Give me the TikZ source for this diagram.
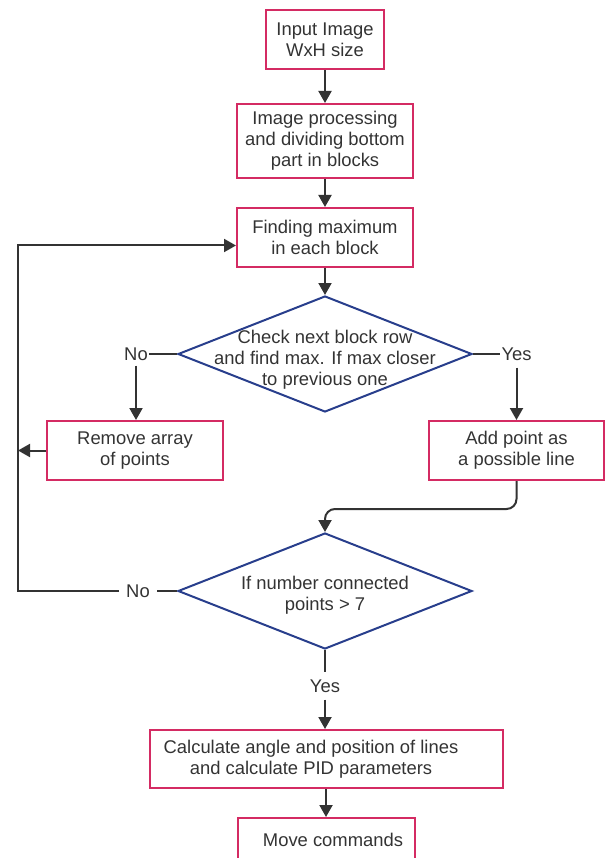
\documentclass[tikz,border=0pt]{standalone}
\usepackage{fontspec}
\setmainfont{Liberation Sans}
\usetikzlibrary{shapes.geometric,arrows.meta,calc}
\definecolor{boxred}{RGB}{212,43,99}
\definecolor{decblue}{RGB}{40,62,140}
\definecolor{linegray}{RGB}{51,51,51}

\begin{document}
\begin{tikzpicture}
            [x=1pt,y=-1pt,
                box/.style={draw=boxred,line width=2pt,align=center,text=linegray,font=\fontsize{18.4}{21}\selectfont,inner sep=0pt},
                decision/.style={diamond,draw=decblue,line width=2pt,minimum width=294pt,minimum height=116pt,inner sep=0pt},
                dectext/.style={align=center,text=linegray,font=\fontsize{18.4}{21}\selectfont},
                answer/.style={text=linegray,font=\fontsize{18.4}{21}\selectfont,inner sep=1pt},
                line/.style={linegray,line width=2pt},
                arrow/.style={line,-{Triangle[length=12pt,width=13pt]}}]
            \useasboundingbox (0,0) rectangle (606,858);

            %boxes down the middle
            \node[box,minimum width=118pt,minimum height=59pt] (input) at (325,40) {Input Image\\WxH size};
            \node[box,minimum width=176pt,minimum height=74pt] (process) at (325,141) {Image processing\\and dividing bottom\\part in blocks};
            \node[box,minimum width=176pt,minimum height=59pt] (find) at (325,237.5) {Finding maximum\\in each block};

            %first decision and its two answers
            \node[decision] (check) at (325,354) {};
            \node[dectext] (checktext) at (325,360) {Check next block row\\and find max. If max closer\\to previous one};
            \node[answer] (no1) at (136,354) {No};
            \node[answer] (yes1) at (516.5,354) {Yes};
            \node[box,minimum width=176pt,minimum height=59pt] (remove) at (135,450.5) {Remove array\\of points};
            \node[box,minimum width=175pt,minimum height=59pt] (add) at (516.5,450.5) {Add point as\\a possible line};

            %second decision
            \node[decision] (count) at (325,591) {};
            \node[dectext] (counttext) at (325,595.5) {If number connected\\points > 7};
            \node[answer,inner sep=7pt] (no2) at (138,591) {No};
            \node[answer,inner sep=7pt] (yes2) at (325,686) {Yes};

            %last boxes
            \node[box,minimum width=353pt,minimum height=58pt] (calc) at (326,759) {Calculate angle and position of lines\hspace*{30pt}\\and calculate PID parameters\hspace*{30pt}};
            \node[box,minimum width=177pt,minimum height=59pt,text depth=16pt] (move) at (326,847.5) {\hspace*{14pt}Move commands};

            %connectors
            \draw[arrow] (input) -- (process);
            \draw[arrow] (process) -- (find);
            \draw[arrow] (find) -- (check);
            \draw[line] (check.west) -- (no1.east);
            \draw[arrow] ([yshift=-4pt]no1.south) -- (no1.south |- remove.north);
            \draw[line] (check.east) -- (yes1.west);
            \draw[arrow] ([yshift=-6pt]yes1.south) -- (yes1.south |- add.north);
            \draw[arrow,rounded corners=10pt] (add.south) -- ++(0,28) -| (count.north);
            \draw[line] (count.west) -- (no2.east);
            \coordinate (loop) at (18,591);
            \draw[arrow] (no2.west) -- (loop) |- ($(find.west)+(0,8)$);
            \draw[arrow] (remove.west) -- (remove.west -| loop);
            \draw[line] (count.south) -- (yes2.north);
            \draw[arrow] (yes2.south) -- (yes2.south |- calc.north);
            \draw[arrow] (calc) -- (move);
        \end{tikzpicture}
\end{document}
